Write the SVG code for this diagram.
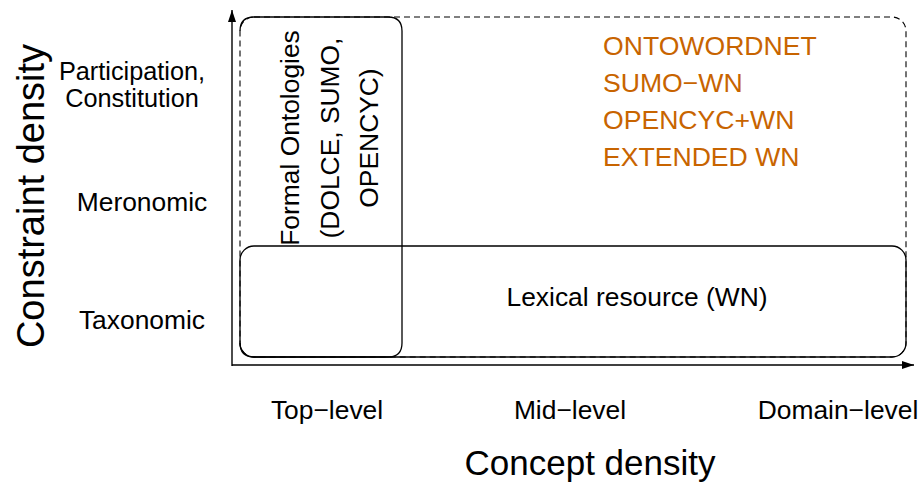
<svg xmlns="http://www.w3.org/2000/svg" width="921" height="482" viewBox="0 0 921 482">
<style>
text{font-family:"Liberation Sans",Arial,sans-serif;fill:#000}
.m{font-size:26.4px}
.p{font-size:25.3px}
.big{font-size:35px}
.cd{font-size:38px}
.or{font-size:26.6px;fill:#c86400}
.axis{stroke:#000;stroke-width:1.4;fill:none}
.box{stroke:#000;stroke-width:1.3;fill:none}
.dash{stroke:#000;stroke-width:1.1;fill:none;stroke-dasharray:6 4}
</style>
<defs>
<marker id="ah" viewBox="0 0 12 8" refX="12" refY="4" markerWidth="12" markerHeight="8" markerUnits="userSpaceOnUse" orient="auto">
<path d="M0,0 L12,4 L0,8 Z" fill="#000"/>
</marker>
</defs>
<rect width="921" height="482" fill="#fff"/>
<g id="connectors">
<line class="axis" x1="232" y1="366" x2="232" y2="10" marker-end="url(#ah)"/>
<line class="axis" x1="232" y1="365" x2="914" y2="365" marker-end="url(#ah)"/>
</g>
<g id="extended">
<rect class="dash" x="240" y="17" width="666" height="340" rx="14" ry="14"/>
<text class="or" x="603" y="55">ONTOWORDNET</text>
<text class="or" x="603" y="92">SUMO−WN</text>
<text class="or" x="603" y="129">OPENCYC+WN</text>
<text class="or" x="603" y="166">EXTENDED WN</text>
</g>
<g id="lexical">
<rect class="box" x="240" y="246" width="666" height="111" rx="14" ry="14"/>
<text class="m" x="637" y="306" text-anchor="middle">Lexical resource (WN)</text>
</g>
<g id="formal">
<path class="box" d="M240,31 Q240,17 254,17 H388 Q402,17 402,31 V343 Q402,357 388,357 H254 Q240,357 240,343"/>
<text class="m" transform="translate(299,138) rotate(-90)" text-anchor="middle">Formal Ontologies</text>
<text class="m" transform="translate(339,138) rotate(-90)" text-anchor="middle">(DOLCE, SUMO,</text>
<text class="m" transform="translate(378,138) rotate(-90)" text-anchor="middle">OPENCYC)</text>
</g>
<g id="y-labels">
<text class="cd" transform="translate(44,196) rotate(-90)" text-anchor="middle">Constraint density</text>
<text class="p" x="132" y="80" text-anchor="middle">Participation,</text>
<text class="p" x="132" y="107" text-anchor="middle">Constitution</text>
<text class="m" x="142" y="211" text-anchor="middle">Meronomic</text>
<text class="m" x="142" y="329" text-anchor="middle">Taxonomic</text>
</g>
<g id="x-labels">
<text class="m" x="327" y="419" text-anchor="middle">Top−level</text>
<text class="m" x="570" y="419" text-anchor="middle">Mid−level</text>
<text class="m" x="838" y="419" text-anchor="middle">Domain−level</text>
<text class="big" x="590" y="475" text-anchor="middle">Concept density</text>
</g>
</svg>
